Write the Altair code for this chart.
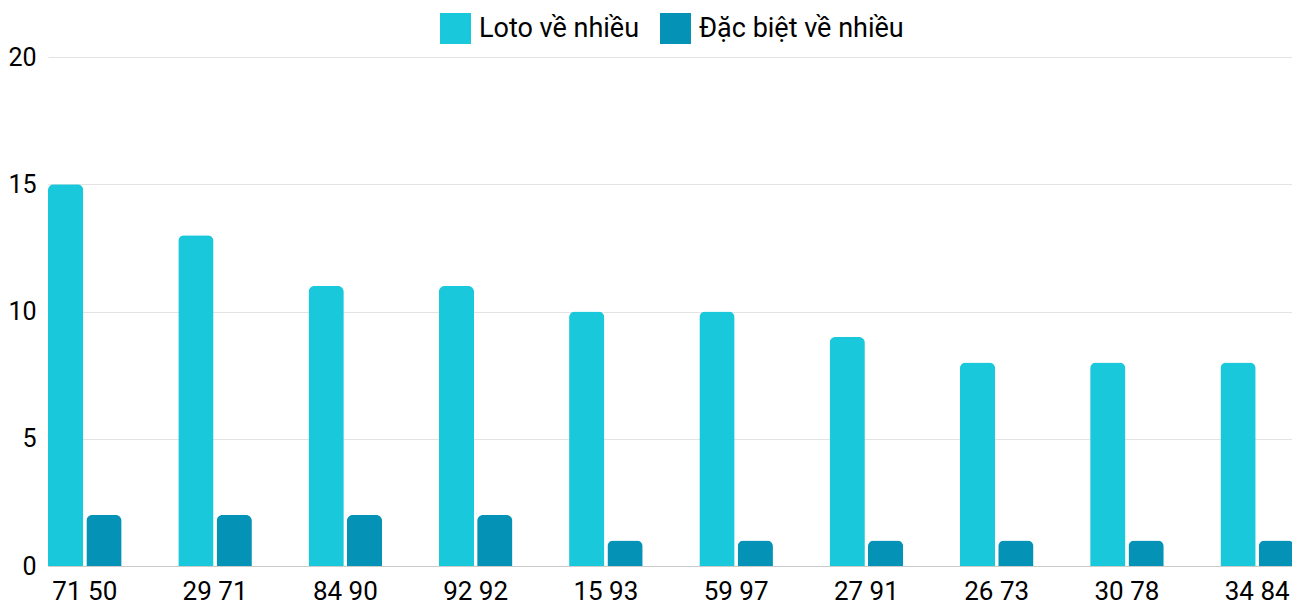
import altair as alt
import pandas as pd

categories = ["71 50", "29 71", "84 90", "92 92", "15 93", "59 97", "27 91", "26 73", "30 78", "34 84"]
loto_values = [15, 13, 11, 11, 10, 10, 9, 8, 8, 8]
special_values = [2, 2, 2, 2, 1, 1, 1, 1, 1, 1]
series_names = ["Loto về nhiều", "Đặc biệt về nhiều"]
series_colors = ["#1ac8db", "#0493b6"]

rows = []
for c, a, b in zip(categories, loto_values, special_values):
    rows.append({"cat": c, "series": series_names[0], "value": a})
    rows.append({"cat": c, "series": series_names[1], "value": b})
df = pd.DataFrame(rows)

FONT = "Roboto"

chart = alt.Chart(df).mark_bar(
    cornerRadiusTopLeft=6, cornerRadiusTopRight=6
).encode(
    x=alt.X("cat:N", sort=categories,
            scale=alt.Scale(paddingInner=0.435, paddingOuter=0, round=False, align=0),
            axis=alt.Axis(title=None, labelAngle=0, ticks=False, domainColor="#cccccc",
                          labelPadding=12, labelFontSize=26, labelFont=FONT,
                          labelColor="#000000", grid=False)),
    xOffset=alt.XOffset("series:N", sort=series_names,
                        scale=alt.Scale(paddingInner=0.08, paddingOuter=0, round=False)),
    y=alt.Y("value:Q", scale=alt.Scale(domain=[0, 20], nice=False),
            axis=alt.Axis(title=None, values=[0, 5, 10, 15, 20], domain=False, ticks=False,
                          labelPadding=12, labelFontSize=25, labelFont=FONT,
                          labelColor="#000000", gridColor="#e3e3e3")),
    color=alt.Color("series:N", sort=series_names,
                    scale=alt.Scale(domain=series_names, range=series_colors),
                    legend=alt.Legend(title=None, orient="none", legendX=392, legendY=-44,
                                      direction="horizontal", symbolType="square",
                                      symbolSize=961, symbolStrokeWidth=0,
                                      labelFontSize=27, labelFont=FONT, labelColor="#000000",
                                      labelLimit=0,
                                      columnPadding=20, labelOffset=8, padding=0)),
).properties(
    width=1246, height=509,
    autosize=alt.AutoSizeParams(type="none"),
    padding={"left": 40, "top": 49, "right": -2, "bottom": 44},
).configure_view(strokeWidth=0)

chart.save("out.html", embed_options={"renderer": "svg", "actions": False})
